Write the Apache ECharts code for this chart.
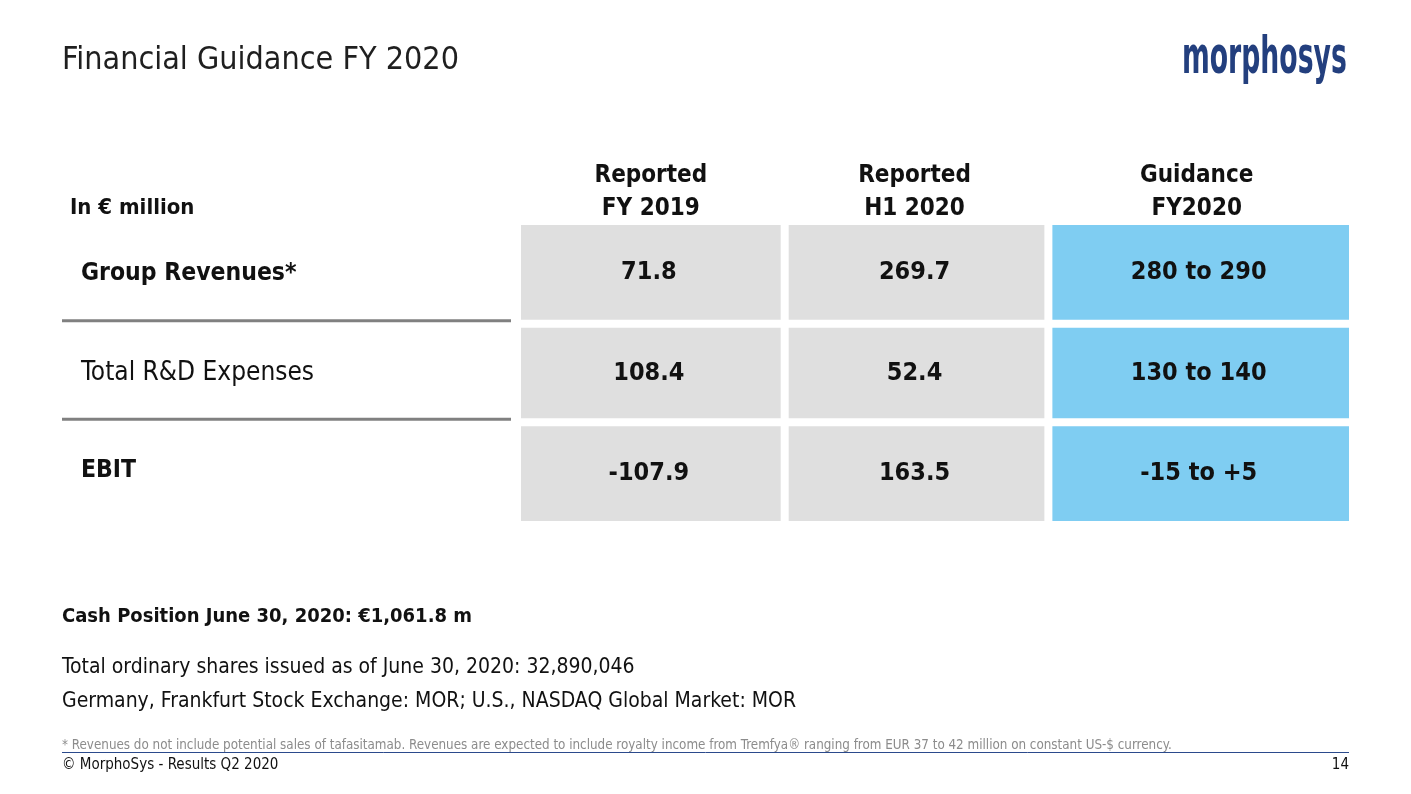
<!DOCTYPE html>
<html><head><meta charset="utf-8">
<script src="https://cdn.jsdelivr.net/npm/echarts@6/dist/echarts.min.js"></script>
<style>html,body{margin:0;padding:0;background:#fff}#c{width:1411px;height:794px}</style>
</head><body><div id="c"></div>
<script>
// ---- data ----
const rowLabels = ['Group Revenues*', 'Total R&D Expenses', 'EBIT'];
const colHeaders = ['Reported\nFY 2019', 'Reported\nH1 2020', 'Guidance\nFY2020'];
const reportedFY2019 = ['71.8', '108.4', '-107.9'];
const reportedH12020 = ['269.7', '52.4', '163.5'];
const guidanceFY2020 = ['280 to 290', '130 to 140', '-15 to +5'];
const unitLabel = 'In € million';
const title = 'Financial Guidance FY 2020';
const cashLine = 'Cash Position June 30, 2020: €1,061.8 m';
const sharesLine = 'Total ordinary shares issued as of June 30, 2020: 32,890,046';
const exchangeLine = 'Germany, Frankfurt Stock Exchange: MOR; U.S., NASDAQ Global Market: MOR';
const footnote = '* Revenues do not include potential sales of tafasitamab. Revenues are expected to include royalty income from Tremfya® ranging from EUR 37 to 42 million on constant US-$ currency.';
const footer = '© MorphoSys - Results Q2 2020';
const pageNo = '14';

// ---- layout / style ----
const FONT = '"DejaVu Sans Condensed", "DejaVu Sans", sans-serif';
const colWeights = [1, 1, 1.14];
const colFill = ['#dfdfdf', '#dfdfdf', '#7fcdf2'];
const boldRows = [true, false, true];
const cum = [0];
colWeights.forEach((w, i) => cum.push(cum[i] + w));
const GAP = 8;
const GRID = {left: 521, top: 225, width: 828, height: 296};

const cellData = [];
[reportedFY2019, reportedH12020, guidanceFY2020].forEach((col, ci) => {
  col.forEach((v, ri) => cellData.push([ci, ri, v]));
});

const chart = echarts.init(document.getElementById('c'), null, {renderer: 'canvas'});

function renderCell(params, api) {
  const ci = api.value(0), ri = api.value(1);
  const text = cellData[params.dataIndex][2];
  const x0 = api.coord([cum[ci], ri])[0] + (ci > 0 ? GAP / 2 : 0);
  const x1 = api.coord([cum[ci + 1], ri])[0] - (ci < colWeights.length - 1 ? GAP / 2 : 0);
  const cy = api.coord([0, ri])[1];
  const bh = api.size([0, 1])[1];
  const y0 = cy - bh / 2 + (ri > 0 ? GAP / 2 : 0);
  const y1 = cy + bh / 2 - (ri < rowLabels.length - 1 ? GAP / 2 : 0);
  const children = [
    {type: 'rect', shape: {x: x0, y: y0, width: x1 - x0, height: y1 - y0}, style: {fill: colFill[ci]}},
    {type: 'text', style: {x: (x0 + x1) / 2 - 2, y: (y0 + y1) / 2, text: text, fill: '#111',
      font: 'bold 25px ' + FONT, align: 'center', verticalAlign: 'middle'}}
  ];
  if (ci === 0 && ri < rowLabels.length - 1) {
    const ly = cy + bh / 2 - 3;
    children.push({type: 'line', shape: {x1: 62, y1: ly, x2: x0 - 10, y2: ly},
      style: {stroke: '#808080', lineWidth: 3}});
  }
  return {type: 'group', children: children};
}

function renderHeader(params, api) {
  const ci = params.dataIndex;
  const x = (api.coord([cum[ci], 0])[0] + api.coord([cum[ci + 1], 0])[0]) / 2;
  return {type: 'text', style: {x: x - 2, y: GRID.top - 33, text: colHeaders[ci], fill: '#111',
    font: 'bold 24px ' + FONT, lineHeight: 33, align: 'center', verticalAlign: 'middle'}};
}

chart.setOption({
  animation: false,
  backgroundColor: '#fff',
  title: {text: title, left: 62, top: 45, padding: 0, textStyle: {fontFamily: FONT, fontSize: 32, fontWeight: 'normal', color: '#1f1f1f'}},
  grid: GRID,
  xAxis: {type: 'value', min: 0, max: cum[cum.length - 1], show: false},
  yAxis: {type: 'category', inverse: true, data: rowLabels,
    axisLine: {show: false}, axisTick: {show: false}, splitLine: {show: false},
    axisLabel: {align: 'left', margin: 440, fontFamily: FONT, fontSize: 24, color: '#111',
      formatter: (v, i) => boldRows[i] ? '{b|' + v + '}' : '{n|' + v + '}',
      rich: {b: {fontWeight: 'bold', fontSize: 24.5, fontFamily: FONT, color: '#111', padding: [0, 0, 2, 0]},
             n: {fontWeight: 'normal', fontSize: 26, fontFamily: FONT, color: '#111'}}}},
  series: [
    {type: 'custom', renderItem: renderCell, data: cellData.map(d => [d[0], d[1]]), silent: true},
    {type: 'custom', renderItem: renderHeader, data: colHeaders.map((h, i) => [i, 0]), silent: true}
  ],
  graphic: [
    {type: 'text', x: 70, y: 197, style: {text: unitLabel, font: 'bold 22px ' + FONT, fill: '#111'}},
    {type: 'text', x: 1182, y: 33, scaleX: 0.57, style: {text: 'morphosys', font: 'bold 52px ' + FONT, fill: '#233f7e'}},
    {type: 'text', x: 62, y: 607, style: {text: cashLine, font: 'bold 20px ' + FONT, fill: '#111'}},
    {type: 'text', x: 62, y: 657, style: {text: sharesLine, font: '21px ' + FONT, fill: '#111'}},
    {type: 'text', x: 62, y: 691, style: {text: exchangeLine, font: '21px ' + FONT, fill: '#111'}},
    {type: 'text', x: 62, y: 739, style: {text: footnote, font: '13.3px ' + FONT, fill: '#8c8c8c'}},
    {type: 'line', shape: {x1: 62, y1: 752.5, x2: 1349, y2: 752.5}, style: {stroke: '#2b4a8c', lineWidth: 1}},
    {type: 'text', x: 62, y: 758, style: {text: footer, font: '15px ' + FONT, fill: '#111'}},
    {type: 'text', right: 62, top: 758, style: {text: pageNo, font: '15px ' + FONT, fill: '#111'}}
  ]
});
</script></body></html>
